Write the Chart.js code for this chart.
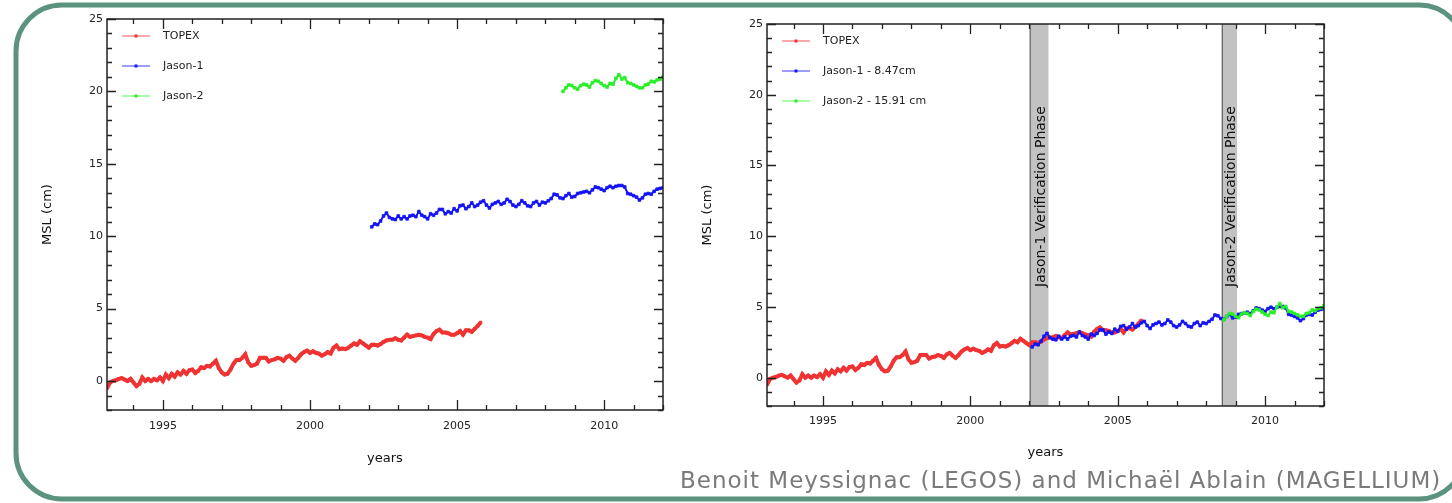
<!DOCTYPE html>
<html><head><meta charset="utf-8">
<script src="https://cdn.jsdelivr.net/npm/chart.js@4.4.1/dist/chart.umd.min.js"></script>
<style>
html,body{margin:0;padding:0;background:#fff;width:1452px;height:503px;overflow:hidden;position:relative;font-family:"DejaVu Sans",sans-serif}
#frame{position:absolute;left:0;top:0}
.box{position:absolute;top:0;height:503px}
#credit{position:absolute;left:680px;top:466px;font-size:23px;letter-spacing:1px;line-height:28px;color:#7a7a7a;white-space:nowrap}
</style></head>
<body>
<svg id="frame" width="1452" height="503" viewBox="0 0 1452 503"><rect x="16" y="5" width="1449" height="494" rx="46" ry="46" fill="none" stroke="#5b937f" stroke-width="5"/></svg>
<div class="box" style="left:0;width:670px"><canvas id="c1" width="670" height="503"></canvas></div>
<div class="box" style="left:670px;width:680px"><canvas id="c2" width="680" height="503"></canvas></div>
<div id="credit">Benoit Meyssignac (LEGOS) and Michaël Ablain (MAGELLIUM)</div>
<script>
// ---------- data ----------
const TOPEX_YEARS=[1993.1,1993.2,1993.3,1993.4,1993.5,1993.6,1993.7,1993.8,1993.9,
1994.0,1994.1,1994.2,1994.3,1994.4,1994.5,1994.6,1994.7,1994.8,1994.9,
1995.0,1995.1,1995.2,1995.3,1995.4,1995.5,1995.6,1995.7,1995.8,1995.9,
1996.0,1996.1,1996.2,1996.3,1996.4,1996.5,1996.6,1996.7,1996.8,1996.9,
1997.0,1997.1,1997.2,1997.3,1997.4,1997.5,1997.6,1997.7,1997.8,1997.9,
1998.0,1998.1,1998.2,1998.3,1998.4,1998.5,1998.6,1998.7,1998.8,1998.9,
1999.0,1999.1,1999.2,1999.3,1999.4,1999.5,1999.6,1999.7,1999.8,1999.9,
2000.0,2000.1,2000.2,2000.3,2000.4,2000.5,2000.6,2000.7,2000.8,2000.9,
2001.0,2001.1,2001.2,2001.3,2001.4,2001.5,2001.6,2001.7,2001.8,2001.9,
2002.0,2002.1,2002.2,2002.3,2002.4,2002.5,2002.6,2002.7,2002.8,2002.9,
2003.0,2003.1,2003.2,2003.3,2003.4,2003.5,2003.6,2003.7,2003.8,2003.9,
2004.0,2004.1,2004.2,2004.3,2004.4,2004.5,2004.6,2004.7,2004.8,2004.9,
2005.0,2005.1,2005.2,2005.3,2005.4,2005.5,2005.6,2005.7,2005.8];
const TOPEX_MSL=[-0.5,-0.1,0.0,0.05,0.15,0.2,0.1,0.0,0.15,
-0.1,-0.35,-0.2,0.25,0.0,0.15,0.0,0.15,0.05,0.25,
0.0,0.45,0.2,0.5,0.3,0.6,0.45,0.7,0.5,0.75,
0.8,0.55,0.7,0.95,0.9,1.05,1.0,1.2,1.4,0.9,
0.6,0.45,0.5,0.8,1.2,1.45,1.45,1.6,1.85,1.3,
1.05,1.1,1.2,1.6,1.6,1.6,1.35,1.45,1.5,1.6,
1.55,1.4,1.65,1.75,1.55,1.4,1.6,1.85,2.0,2.1,
1.95,2.05,1.95,1.9,1.75,1.85,2.0,1.9,2.3,2.45,
2.2,2.25,2.2,2.3,2.45,2.6,2.5,2.75,2.6,2.45,
2.3,2.5,2.5,2.45,2.55,2.7,2.8,2.85,2.85,2.95,
2.85,2.8,3.0,3.2,3.05,3.1,3.15,3.2,3.15,3.05,
3.0,2.9,3.25,3.45,3.55,3.35,3.35,3.3,3.2,3.2,
3.3,3.45,3.2,3.5,3.5,3.4,3.6,3.8,4.05];

const JASON1_YEARS=[2002.1,2002.2,2002.3,2002.4,2002.5,2002.6,2002.7,2002.8,2002.9,
2003.0,2003.1,2003.2,2003.3,2003.4,2003.5,2003.6,2003.7,2003.8,2003.9,
2004.0,2004.1,2004.2,2004.3,2004.4,2004.5,2004.6,2004.7,2004.8,2004.9,
2005.0,2005.1,2005.2,2005.3,2005.4,2005.5,2005.6,2005.7,2005.8,2005.9,
2006.0,2006.1,2006.2,2006.3,2006.4,2006.5,2006.6,2006.7,2006.8,2006.9,
2007.0,2007.1,2007.2,2007.3,2007.4,2007.5,2007.6,2007.7,2007.8,2007.9,
2008.0,2008.1,2008.2,2008.3,2008.4,2008.5,2008.6,2008.7,2008.8,2008.9,
2009.0,2009.1,2009.2,2009.3,2009.4,2009.5,2009.6,2009.7,2009.8,2009.9,
2010.0,2010.1,2010.2,2010.3,2010.4,2010.5,2010.6,2010.7,2010.8,2010.9,
2011.0,2011.1,2011.2,2011.3,2011.4,2011.5,2011.6,2011.7,2011.8,2011.9,2012.0];
const JASON1_MSL=[10.65,10.85,10.8,11.05,11.4,11.6,11.3,11.2,11.15,
11.4,11.2,11.35,11.2,11.4,11.45,11.35,11.7,11.45,11.35,
11.2,11.55,11.45,11.6,11.85,11.85,11.55,11.7,11.6,11.9,
11.75,12.1,12.15,11.9,12.05,12.3,12.05,12.15,12.35,12.45,
12.15,11.95,12.2,12.3,12.4,12.2,12.3,12.55,12.4,12.15,
12.05,12.2,12.45,12.3,12.1,12.05,12.3,12.4,12.15,12.35,
12.3,12.45,12.6,12.9,12.85,12.65,12.6,12.8,12.95,12.7,
12.75,12.95,13.0,13.05,13.1,13.0,13.2,13.4,13.35,13.25,
13.15,13.35,13.45,13.35,13.45,13.5,13.5,13.4,12.95,12.9,
12.8,12.7,12.5,12.65,12.9,12.95,12.9,13.1,13.25,13.3,13.35];

const JASON2_YEARS=[2008.6,2008.7,2008.8,2008.9,
2009.0,2009.1,2009.2,2009.3,2009.4,2009.5,2009.6,2009.7,2009.8,2009.9,
2010.0,2010.1,2010.2,2010.3,2010.4,2010.5,2010.6,2010.7,2010.8,2010.9,
2011.0,2011.1,2011.2,2011.3,2011.4,2011.5,2011.6,2011.7,2011.8,2011.9,2012.0];
const JASON2_MSL=[20.0,20.25,20.45,20.4,
20.25,20.15,20.4,20.5,20.45,20.3,20.6,20.75,20.7,20.55,
20.4,20.3,20.55,20.5,20.9,21.15,20.85,20.95,20.6,20.55,
20.45,20.35,20.25,20.25,20.45,20.5,20.7,20.65,20.8,20.85,21.0];

const JASON1_OFFSET=8.47;   // cm, removed in right panel
const JASON2_OFFSET=15.91;  // cm, removed in right panel

const LEFT_LABELS=['TOPEX','Jason-1','Jason-2'];
const RIGHT_LABELS=['TOPEX','Jason-1 - 8.47cm','Jason-2 - 15.91 cm'];
const X_TICKS=[1995,2000,2005,2010];
const Y_TICKS=[0,5,10,15,20,25];
const X_RANGE=[1993.1,2012.0];
const Y_RANGE=[-2,25];
const PHASES=[{from:2002.03,to:2002.65,label:'Jason-1 Verification Phase'},
              {from:2008.55,to:2009.05,label:'Jason-2 Verification Phase'}];

// ---------- styles ----------
const COLORS=['rgb(240,52,52)','rgb(20,20,248)','rgb(40,240,40)'];
const FADED=['rgb(255,140,140)','rgb(125,125,255)','rgb(140,255,140)'];
const WIDTHS=[4,2,2];
const PRAD=[1.8,1.9,1.9];
const FONT="'DejaVu Sans', sans-serif";
Chart.defaults.font.family=FONT;
Chart.defaults.color='#222';

function pts(xs,ys,off){return xs.map((x,i)=>({x:x,y:+(ys[i]-off).toFixed(2)}));}

const decor={
  id:'decor',
  beforeDatasetsDraw(chart,args,o){
    const {ctx,chartArea:a,scales:{x,y}}=chart;
    (o.bands||[]).forEach(b=>{
      const x0=x.getPixelForValue(b.from),x1=x.getPixelForValue(b.to);
      ctx.save();
      ctx.fillStyle='#c2c2c2';ctx.fillRect(x0,a.top,x1-x0,a.bottom-a.top);
      ctx.strokeStyle='#666';ctx.lineWidth=1.3;
      ctx.beginPath();ctx.moveTo(x0,a.top);ctx.lineTo(x0,a.bottom);ctx.stroke();
      ctx.translate((x0+x1)/2+2,y.getPixelForValue(12.8));
      ctx.rotate(-Math.PI/2);
      ctx.fillStyle='#111';ctx.font='14px '+FONT;ctx.textAlign='center';ctx.textBaseline='middle';
      ctx.fillText(b.label,0,0);
      ctx.restore();
    });
  },
  afterDraw(chart,args,o){
    const {ctx,chartArea:a,scales:{x,y}}=chart;
    ctx.save();
    ctx.strokeStyle='#222';ctx.lineWidth=1.5;
    ctx.strokeRect(a.left,a.top,a.right-a.left,a.bottom-a.top);
    ctx.lineWidth=1.3;ctx.beginPath();
    for(let v=Math.ceil(X_RANGE[0]);v<=Math.floor(X_RANGE[1]);v++){
      const px=Math.round(x.getPixelForValue(v))+0.5,L=(v%5===0)?10:5;
      ctx.moveTo(px,a.bottom);ctx.lineTo(px,a.bottom-L);
      ctx.moveTo(px,a.top);ctx.lineTo(px,a.top+L);
    }
    for(let v=Y_RANGE[0];v<=Y_RANGE[1];v++){
      const py=Math.round(y.getPixelForValue(v))+0.5,L=(v%5===0)?9:5;
      ctx.moveTo(a.left,py);ctx.lineTo(a.left+L,py);
      ctx.moveTo(a.right,py);ctx.lineTo(a.right-L,py);
    }
    ctx.stroke();
    // legend
    ctx.font='11px '+FONT;ctx.textBaseline='middle';ctx.textAlign='left';
    chart.data.datasets.forEach((d,i)=>{
      const ly=a.top+17+i*30,lx=a.left+15;
      ctx.strokeStyle=FADED[i];ctx.lineWidth=1.5;
      ctx.beginPath();ctx.moveTo(lx,ly);ctx.lineTo(lx+28,ly);ctx.stroke();
      ctx.fillStyle=COLORS[i];ctx.fillRect(lx+12.5,ly-1.5,3,3);
      ctx.fillStyle='#222';ctx.fillText(d.label,a.left+56,ly);
    });
    ctx.restore();
  }
};

function makeChart(id,labels,offsets,geo,bands){
  const series=[[TOPEX_YEARS,TOPEX_MSL],[JASON1_YEARS,JASON1_MSL],[JASON2_YEARS,JASON2_MSL]];
  const datasets=series.map((s,i)=>({
    label:labels[i],data:pts(s[0],s[1],offsets[i]),
    borderColor:COLORS[i],backgroundColor:COLORS[i],borderWidth:WIDTHS[i],
    pointRadius:PRAD[i],pointStyle:'rect',pointBorderWidth:0.8,pointBorderColor:COLORS[i],pointBackgroundColor:COLORS[i],
    tension:0,fill:false,order:2-i
  }));
  return new Chart(document.getElementById(id),{
    type:'line',
    data:{datasets},
    options:{
      responsive:false,animation:false,devicePixelRatio:1,
      layout:{padding:{top:geo.top,right:geo.right,left:0,bottom:0}},
      plugins:{legend:{display:false},tooltip:{enabled:false},decor:{bands}},
      scales:{
        x:{type:'linear',min:X_RANGE[0],max:X_RANGE[1],
           afterBuildTicks:s=>{s.ticks=X_TICKS.map(v=>({value:v}));},
           afterFit:s=>{s.height=geo.xh;},
           grid:{display:false,drawTicks:false},border:{display:false},
           ticks:{padding:geo.xpad,font:{size:11},color:'#222',maxRotation:0,autoSkip:false,callback:v=>String(v)},
           title:{display:true,text:'years',font:{size:13},color:'#111',padding:{top:0,bottom:geo.xtb}}},
        y:{type:'linear',min:Y_RANGE[0],max:Y_RANGE[1],
           afterBuildTicks:s=>{s.ticks=Y_TICKS.map(v=>({value:v}));},
           afterFit:s=>{s.width=geo.yw;},
           grid:{display:false,drawTicks:false},border:{display:false},
           ticks:{padding:4,font:{size:11},color:'#222',callback:v=>String(v)},
           title:{display:true,text:'MSL (cm)',font:{size:13},color:'#111',padding:{top:geo.ytt,bottom:0}}}
      }
    },
    plugins:[decor]
  });
}

makeChart('c1',LEFT_LABELS,[0,0,0],{top:19,right:7,xh:93,yw:107,xpad:10,xtb:37,ytt:40},[]);
makeChart('c2',RIGHT_LABELS,[0,JASON1_OFFSET,JASON2_OFFSET],{top:24,right:26,xh:97,yw:97,xpad:9,xtb:43,ytt:30},PHASES);
</script>
</body></html>
